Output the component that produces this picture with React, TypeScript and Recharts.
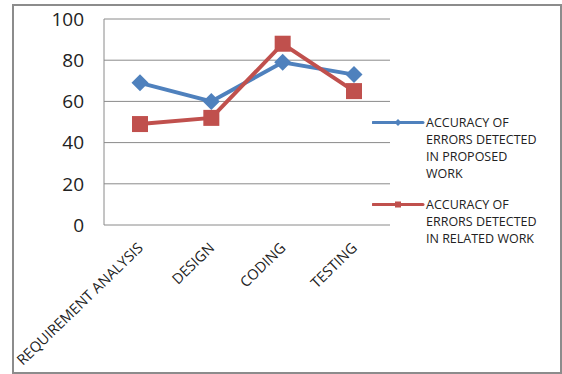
import React from "react";
import {
  LineChart,
  Line,
  XAxis,
  YAxis,
  CartesianGrid,
  Legend,
} from "recharts";

const categories = ["REQUIREMENT ANALYSIS", "DESIGN", "CODING", "TESTING"];
const proposed = [69, 60, 79, 73];
const related = [49, 52, 88, 65];
const yTicks = [0, 20, 40, 60, 80, 100];

const seriesNames = {
  proposed: ["ACCURACY OF", "ERRORS DETECTED", "IN PROPOSED", "WORK"],
  related: ["ACCURACY OF", "ERRORS DETECTED", "IN RELATED WORK"],
};

const BLUE = "#4F81BD";
const RED = "#C0504D";
const GRID = "#8a8a8a";
const FONT = "'Open Sans', sans-serif";

const data = categories.map((c, i) => ({
  name: c,
  proposed: proposed[i],
  related: related[i],
}));

const boundaryTicks = categories.map((_, i) => i).concat(categories.length);

const Diamond = (props: any) => {
  const { cx, cy } = props;
  const r = 8.5;
  return (
    <polygon
      points={`${cx},${cy - r} ${cx + r},${cy} ${cx},${cy + r} ${cx - r},${cy}`}
      fill={BLUE}
    />
  );
};

const Square = (props: any) => {
  const { cx, cy } = props;
  const s = 16;
  return <rect x={cx - s / 2} y={cy - s / 2} width={s} height={s} fill={RED} />;
};

const CatTick = (props: any) => {
  const { x, y, payload } = props;
  const tx = x + 4;
  const ty = y + 24;
  return (
    <text
      x={tx}
      y={ty}
      transform={`rotate(-44, ${tx}, ${ty})`}
      textAnchor="end"
      fontSize={14.5}
      fontFamily={FONT}
      fill="#222"
    >
      {payload.value}
    </text>
  );
};

const LegendItem = ({ color, lines, marker }: any) => (
  <div style={{ display: "flex", alignItems: "flex-start" }}>
    <svg width={54} height={17} style={{ flex: "none" }}>
      <line x1={1} y1={8.5} x2={51} y2={8.5} stroke={color} strokeWidth={3} strokeLinecap="round" />
      {marker === "diamond" ? (
        <polygon points="26,5 29.5,8.5 26,12 22.5,8.5" fill={color} />
      ) : (
        <rect x={23} y={5.5} width={6} height={6} fill={color} />
      )}
    </svg>
    <div style={{ fontFamily: FONT, fontSize: 12.5, lineHeight: "17px", color: "#222" }}>
      {lines.map((l: string) => (
        <div key={l}>{l}</div>
      ))}
    </div>
  </div>
);

const renderLegend = () => (
  <div>
    <LegendItem color={BLUE} lines={seriesNames.proposed} marker="diamond" />
    <div style={{ height: 14 }} />
    <LegendItem color={RED} lines={seriesNames.related} marker="square" />
  </div>
);

export default function App() {
  return (
    <div
      style={{
        position: "fixed",
        left: 0,
        top: 0,
        width: 562,
        height: 374,
        background: "#fff",
        overflow: "hidden",
      }}
    >
      <div style={{ position: "absolute", left: 0, top: 0 }}>
        <LineChart
          width={562}
          height={374}
          data={data}
          margin={{ top: 19, right: 172, bottom: 0, left: 0 }}
        >
          <CartesianGrid vertical={false} stroke={GRID} />
          <XAxis
            xAxisId={0}
            type="number"
            dataKey="idx"
            domain={[0, categories.length]}
            ticks={boundaryTicks}
            allowDataOverflow
            height={0}
            tick={false}
            tickSize={5}
            stroke={GRID}
          />
          <XAxis
            xAxisId="cat"
            dataKey="name"
            interval={0}
            height={149}
            padding={{ left: 36, right: 36 }}
            axisLine={false}
            tickLine={false}
            tickSize={0}
            tickMargin={0}
            tick={<CatTick />}
          />
          <YAxis
            width={104}
            domain={[0, 100]}
            ticks={yTicks}
            tickLine={false}
            tickMargin={14}
            stroke={GRID}
            tick={{ fontSize: 19, fontFamily: FONT, fill: "#222" }}
          />
          <Legend
            layout="vertical"
            align="center"
            verticalAlign="middle"
            content={renderLegend}
            wrapperStyle={{ left: 372, top: 114, width: 185 }}
          />
          <Line
            xAxisId="cat"
            dataKey="proposed"
            stroke={BLUE}
            strokeWidth={4}
            dot={<Diamond />}
            activeDot={false}
            isAnimationActive={false}
          />
          <Line
            xAxisId="cat"
            dataKey="related"
            stroke={RED}
            strokeWidth={4}
            dot={<Square />}
            activeDot={false}
            isAnimationActive={false}
          />
        </LineChart>
      </div>
      <div
        style={{
          position: "absolute",
          left: 12,
          top: 4,
          width: 546,
          height: 366,
          border: "2px solid #8c8c8c",
          pointerEvents: "none",
        }}
      />
    </div>
  );
}
